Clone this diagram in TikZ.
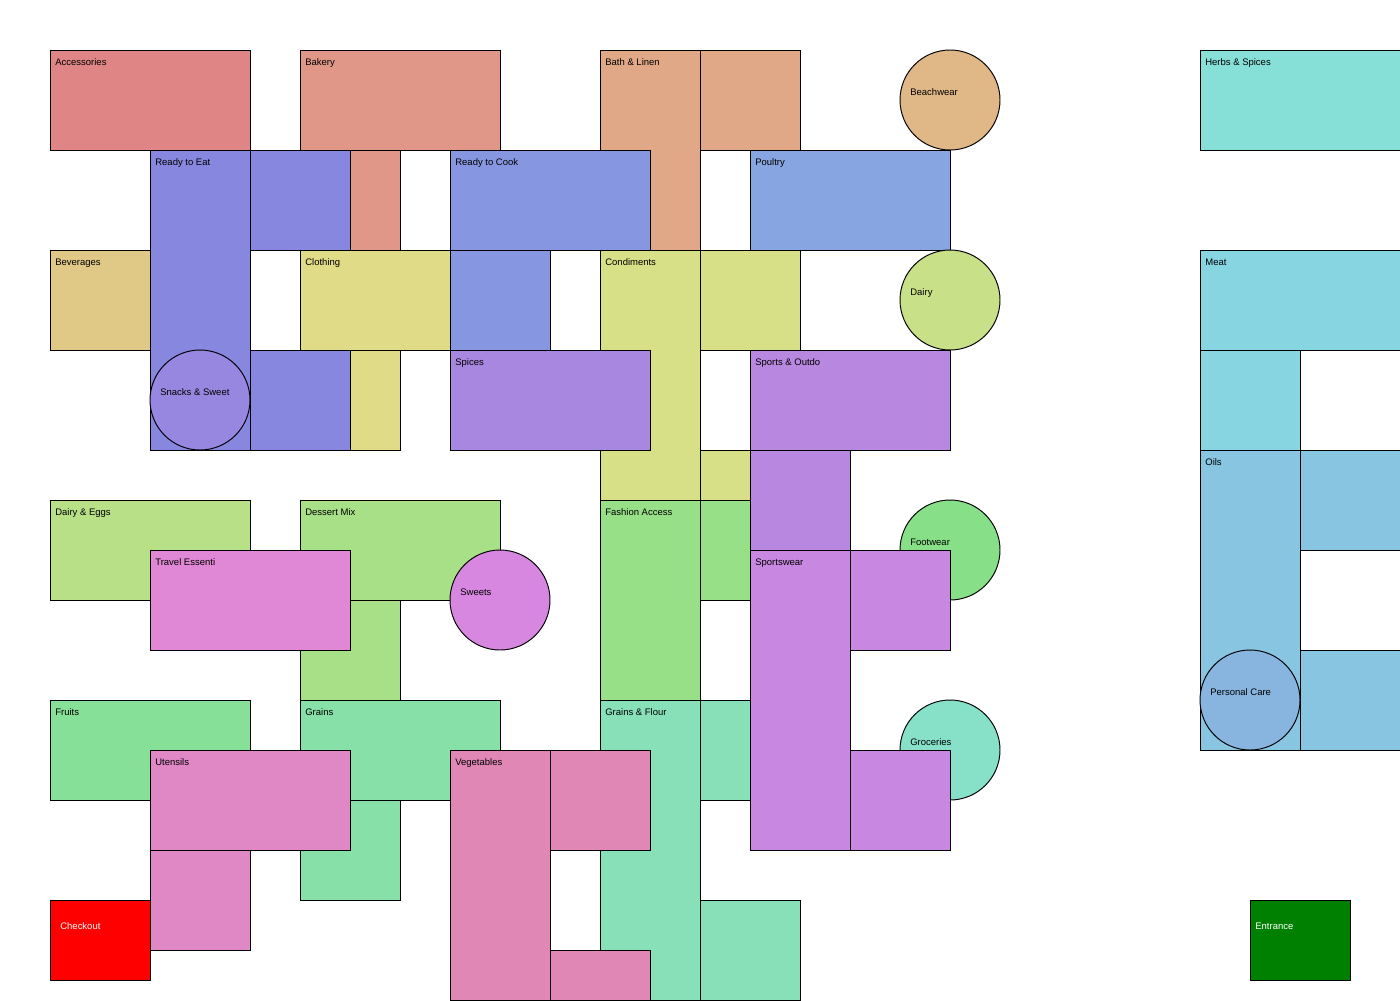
\documentclass[tikz,border=0pt]{standalone}
\usepackage{fontspec}
\setmainfont{Liberation Sans}
\usepackage{xcolor}
\usetikzlibrary{positioning}

\definecolor{cAcc}{HTML}{E08585}
\definecolor{cBak}{HTML}{E09787}
\definecolor{cBath}{HTML}{E0A887}
\definecolor{cBeach}{HTML}{E0B787}
\definecolor{cHerb}{HTML}{87E0D8}
\definecolor{cEat}{HTML}{8787E0}
\definecolor{cCook}{HTML}{8796E0}
\definecolor{cPoul}{HTML}{87A5E0}
\definecolor{cBev}{HTML}{E0C887}
\definecolor{cCloth}{HTML}{E0DB87}
\definecolor{cCond}{HTML}{D8E087}
\definecolor{cDairy}{HTML}{C8E087}
\definecolor{cMeat}{HTML}{87D5E0}
\definecolor{cSnack}{HTML}{9787E0}
\definecolor{cSpice}{HTML}{A887E0}
\definecolor{cSport}{HTML}{B887E0}
\definecolor{cOils}{HTML}{87C5E0}
\definecolor{cEggs}{HTML}{B8E087}
\definecolor{cDess}{HTML}{A8E087}
\definecolor{cFash}{HTML}{97E087}
\definecolor{cFoot}{HTML}{87E087}
\definecolor{cTrav}{HTML}{E087D5}
\definecolor{cSweet}{HTML}{D887E0}
\definecolor{cWear}{HTML}{C887E0}
\definecolor{cCare}{HTML}{87B5E0}
\definecolor{cFruit}{HTML}{87E097}
\definecolor{cGrain}{HTML}{87E0A8}
\definecolor{cFlour}{HTML}{87E0B8}
\definecolor{cGroc}{HTML}{87E0C8}
\definecolor{cUten}{HTML}{E087C5}
\definecolor{cVeg}{HTML}{E087B5}
\definecolor{cEnt}{HTML}{008000}

\begin{document}
\begin{tikzpicture}[
  x=1cm, y=-1cm,
  font=\fontsize{5.4}{6.5}\selectfont,
  zone/.style={draw=black, line width=0.55pt},
  lbl/.style={anchor=base west, inner sep=0pt, text=black},
  exitlbl/.style={anchor=base west, inner sep=0pt, text=white}
]
\useasboundingbox (0,0) rectangle (28,20);

% Row 1
\filldraw[zone, fill=cAcc] (1,1) rectangle (5,3);
\node[lbl] (lAcc) at (1.1,1.3) {Accessories};
\filldraw[zone, fill=cBak] (6,1) rectangle (10,3);
\filldraw[zone, fill=cBak] (7,3) rectangle (8,5);
\node[lbl] (lBak) at (6.1,1.3) {Bakery};
\filldraw[zone, fill=cBath] (12,1) rectangle (14,5);
\filldraw[zone, fill=cBath] (14,1) rectangle (16,3);
\node[lbl] (lBath) at (12.1,1.3) {Bath \& Linen};
\filldraw[zone, fill=cBeach] (19,2) circle (1);
\node[lbl] (lBeach) at (18.2,1.9) {Beachwear};
\filldraw[zone, fill=cHerb] (24,1) rectangle (28,3);
\node[lbl] (lHerb) at (24.1,1.3) {Herbs \& Spices};

% Row 2
\filldraw[zone, fill=cEat] (3,3) rectangle (5,9);
\filldraw[zone, fill=cEat] (5,3) rectangle (7,5);
\filldraw[zone, fill=cEat] (5,7) rectangle (7,9);
\node[lbl] (lEat) at (3.1,3.3) {Ready to Eat};
\filldraw[zone, fill=cCook] (9,3) rectangle (13,5);
\filldraw[zone, fill=cCook] (9,5) rectangle (11,7);
\node[lbl] (lCook) at (9.1,3.3) {Ready to Cook};
\filldraw[zone, fill=cPoul] (15,3) rectangle (19,5);
\node[lbl] (lPoul) at (15.1,3.3) {Poultry};

% Row 3
\filldraw[zone, fill=cBev] (1,5) rectangle (3,7);
\node[lbl] (lBev) at (1.1,5.3) {Beverages};
\filldraw[zone, fill=cCloth] (6,5) rectangle (9,7);
\filldraw[zone, fill=cCloth] (7,7) rectangle (8,9);
\node[lbl] (lCloth) at (6.1,5.3) {Clothing};
\filldraw[zone, fill=cCond] (12,5) rectangle (14,10);
\filldraw[zone, fill=cCond] (14,5) rectangle (16,7);
\filldraw[zone, fill=cCond] (14,9) rectangle (15,10);
\node[lbl] (lCond) at (12.1,5.3) {Condiments};
\filldraw[zone, fill=cDairy] (19,6) circle (1);
\node[lbl] (lDairy) at (18.2,5.9) {Dairy};
\filldraw[zone, fill=cMeat] (24,5) rectangle (28,7);
\filldraw[zone, fill=cMeat] (24,7) rectangle (26,9);
\node[lbl] (lMeat) at (24.1,5.3) {Meat};

% Row 4
\filldraw[zone, fill=cSnack] (4,8) circle (1);
\node[lbl] (lSnack) at (3.2,7.9) {Snacks \& Sweet};
\filldraw[zone, fill=cSpice] (9,7) rectangle (13,9);
\node[lbl] (lSpice) at (9.1,7.3) {Spices};
\filldraw[zone, fill=cSport] (15,7) rectangle (19,9);
\filldraw[zone, fill=cSport] (15,9) rectangle (17,11);
\node[lbl] (lSport) at (15.1,7.3) {Sports \& Outdo};
\filldraw[zone, fill=cOils] (24,9) rectangle (26,15);
\filldraw[zone, fill=cOils] (26,9) rectangle (28,11);
\filldraw[zone, fill=cOils] (26,13) rectangle (28,15);
\node[lbl] (lOils) at (24.1,9.3) {Oils};

% Row 5
\filldraw[zone, fill=cEggs] (1,10) rectangle (5,12);
\node[lbl] (lEggs) at (1.1,10.3) {Dairy \& Eggs};
\filldraw[zone, fill=cDess] (6,10) rectangle (10,12);
\filldraw[zone, fill=cDess] (6,12) rectangle (8,14);
\node[lbl] (lDess) at (6.1,10.3) {Dessert Mix};
\filldraw[zone, fill=cFash] (12,10) rectangle (14,14);
\filldraw[zone, fill=cFash] (14,10) rectangle (15,12);
\node[lbl] (lFash) at (12.1,10.3) {Fashion Access};
\filldraw[zone, fill=cFoot] (19,11) circle (1);
\node[lbl] (lFoot) at (18.2,10.9) {Footwear};
\filldraw[zone, fill=cTrav] (3,11) rectangle (7,13);
\node[lbl] (lTrav) at (3.1,11.3) {Travel Essenti};
\filldraw[zone, fill=cSweet] (10,12) circle (1);
\node[lbl] (lSweet) at (9.2,11.9) {Sweets};
\filldraw[zone, fill=cGroc] (19,15) circle (1);
\node[lbl] (lGroc) at (18.2,14.9) {Groceries};
\filldraw[zone, fill=cWear] (15,11) rectangle (17,17);
\filldraw[zone, fill=cWear] (17,11) rectangle (19,13);
\filldraw[zone, fill=cWear] (17,15) rectangle (19,17);
\node[lbl] (lWear) at (15.1,11.3) {Sportswear};
\filldraw[zone, fill=cCare] (25,14) circle (1);
\node[lbl] (lCare) at (24.2,13.9) {Personal Care};

% Row 6
\filldraw[zone, fill=cFruit] (1,14) rectangle (5,16);
\node[lbl] (lFruit) at (1.1,14.3) {Fruits};
\filldraw[zone, fill=cGrain] (6,14) rectangle (10,16);
\filldraw[zone, fill=cGrain] (6,16) rectangle (8,18);
\node[lbl] (lGrain) at (6.1,14.3) {Grains};
\filldraw[zone, fill=cFlour] (12,14) rectangle (14,20);
\filldraw[zone, fill=cFlour] (14,14) rectangle (15,16);
\filldraw[zone, fill=cFlour] (14,18) rectangle (16,20);
\node[lbl] (lFlour) at (12.1,14.3) {Grains \& Flour};
\filldraw[zone, fill=cUten] (3,15) rectangle (7,17);
\filldraw[zone, fill=cUten] (3,17) rectangle (5,19);
\node[lbl] (lUten) at (3.1,15.3) {Utensils};
\filldraw[zone, fill=cVeg] (9,15) rectangle (11,20);
\filldraw[zone, fill=cVeg] (11,15) rectangle (13,17);
\filldraw[zone, fill=cVeg] (11,19) rectangle (13,20);
\node[lbl] (lVeg) at (9.1,15.3) {Vegetables};

% Exits
\filldraw[zone, fill=red] (1,18) rectangle (3,19.6);
\node[exitlbl] (lOut) at (1.2,18.58) {Checkout};
\filldraw[zone, fill=cEnt] (25,18) rectangle (27,19.6);
\node[exitlbl] (lIn) at (25.1,18.58) {Entrance};
\end{tikzpicture}
\end{document}
